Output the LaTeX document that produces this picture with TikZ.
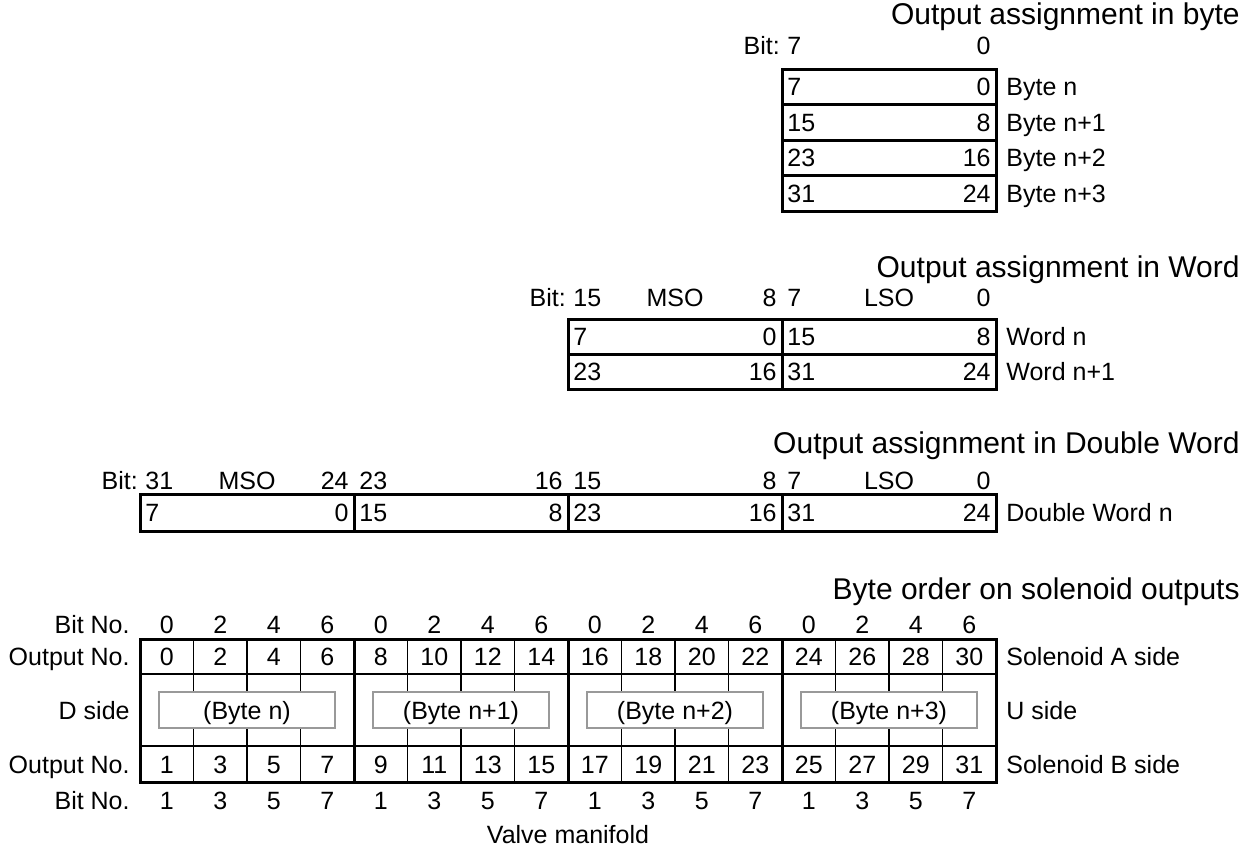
\documentclass[tikz,border=0pt]{standalone}
\usepackage{fontspec}
\setmainfont{Liberation Sans}
\newcommand\tabfont{\fontsize{12.5}{14}\selectfont}
\newcommand\ttlfont{\fontsize{15}{17}\selectfont}
\begin{document}
\begin{tikzpicture}[x=0.5pt,y=-0.5pt,
	txt/.style={inner sep=0pt, text height=9pt, text depth=0pt, font=\tabfont},
	ttl/.style={inner sep=0pt, anchor=east, font=\ttlfont},
	heavy/.style={line width=1.5pt},
	light/.style={line width=0.75pt},
	graybox/.style={draw=black!40, line width=0.7pt, fill=white}]
	\useasboundingbox (0,0) rectangle (1247,852);

	% byte
	\node[ttl] (tbyte) at (1240,17) {Output assignment in byte};
	\node[txt, anchor=west] (bh7) at (787,45) {7};
	\node[txt, anchor=east] (bhbit) at ([xshift=-3.4pt]bh7.west) {Bit:};
	\node[txt, anchor=east] (bh0) at (991,45) {0};
	\foreach \hi/\lo/\lab [count=\i from 0] in {7/0/Byte n, 15/8/Byte n+1, 23/16/Byte n+2, 31/24/Byte n+3} {
		\pgfmathsetmacro\yt{69+35.5*\i}
		\draw[heavy] (782,\yt) rectangle (996,\yt+35.5);
		\node[txt, anchor=west] (bhi\i) at (787,\yt+17.75) {\hi};
		\node[txt, anchor=east] (blo\i) at (991,\yt+17.75) {\lo};
		\node[txt, anchor=west] (blab\i) at (1006,\yt+17.75) {\lab};
	}

	% word
	\node[ttl] (tword) at (1240,270) {Output assignment in Word};
	\node[txt, anchor=west] (wh15) at (573,297) {15};
	\node[txt, anchor=east] (whbit) at ([xshift=-3.4pt]wh15.west) {Bit:};
	\node[txt] (whmso) at (675,297) {MSO};
	\node[txt, anchor=east] (wh8) at (777,297) {8};
	\node[txt, anchor=west] (wh7) at (787,297) {7};
	\node[txt] (whlso) at (889,297) {LSO};
	\node[txt, anchor=east] (wh0) at (991,297) {0};
	\foreach \a/\b/\c/\d/\lab [count=\i from 0] in {7/0/15/8/Word n, 23/16/31/24/Word n+1} {
		\pgfmathsetmacro\yt{319+35*\i}
		\draw[heavy] (568,\yt) rectangle (782,\yt+35);
		\draw[heavy] (782,\yt) rectangle (996,\yt+35);
		\node[txt, anchor=west] (wa\i) at (573,\yt+17.5) {\a};
		\node[txt, anchor=east] (wb\i) at (777,\yt+17.5) {\b};
		\node[txt, anchor=west] (wc\i) at (787,\yt+17.5) {\c};
		\node[txt, anchor=east] (wd\i) at (991,\yt+17.5) {\d};
		\node[txt, anchor=west] (wlab\i) at (1006,\yt+17.5) {\lab};
	}

	% double word
	\node[ttl] (tdword) at (1240,446) {Output assignment in Double Word};
	\node[txt, anchor=west] (dh31) at (145,480) {31};
	\node[txt, anchor=east] (dhbit) at ([xshift=-3.4pt]dh31.west) {Bit:};
	\node[txt] (dhmso) at (247,480) {MSO};
	\node[txt, anchor=east] (dh24) at (349,480) {24};
	\node[txt, anchor=west] (dh23) at (359,480) {23};
	\node[txt, anchor=east] (dh16) at (563,480) {16};
	\node[txt, anchor=west] (dh15) at (573,480) {15};
	\node[txt, anchor=east] (dh8) at (777,480) {8};
	\node[txt, anchor=west] (dh7) at (787,480) {7};
	\node[txt] (dhlso) at (889,480) {LSO};
	\node[txt, anchor=east] (dh0) at (991,480) {0};
	\foreach \hi/\lo [count=\i from 0] in {7/0, 15/8, 23/16, 31/24} {
		\pgfmathsetmacro\xl{140+214*\i}
		\draw[heavy] (\xl,494) rectangle (\xl+214,531);
		\node[txt, anchor=west] (dhi\i) at (\xl+5,512.5) {\hi};
		\node[txt, anchor=east] (dlo\i) at (\xl+209,512.5) {\lo};
	}
	\node[txt, anchor=west] (dlab) at (1006,512.5) {Double Word n};

	% solenoid outputs
	\node[ttl] (tsol) at (1240,592) {Byte order on solenoid outputs};
	\foreach \c in {1,...,15}
		\draw[light] ({140+53.5*\c},639) -- ++(0,143);
	\draw[light] (140,674) -- (996,674);
	\draw[light] (140,746) -- (996,746);
	\foreach \lab [count=\g from 0] in {n, n+1, n+2, n+3} {
		\pgfmathsetmacro\xl{140+214*\g}
		\draw[heavy] (\xl,639) rectangle (\xl+214,782);
		\draw[graybox] (\xl+19,692) rectangle (\xl+195,728);
		\node[txt] (sbyte\g) at (\xl+107,710) {(Byte \lab)};
	}
	\foreach \c in {0,...,15} {
		\pgfmathsetmacro\cx{140+53.5*(\c+0.5)}
		\pgfmathtruncatemacro\ev{mod(\c,4)*2}
		\pgfmathtruncatemacro\od{\ev+1}
		\pgfmathtruncatemacro\oa{2*\c}
		\pgfmathtruncatemacro\ob{2*\c+1}
		\node[txt] (sbt\c) at (\cx,624) {\ev};
		\node[txt] (soa\c) at (\cx,656.5) {\oa};
		\node[txt] (sob\c) at (\cx,764) {\ob};
		\node[txt] (sbb\c) at (\cx,800) {\od};
	}
	\node[txt, anchor=east] (lbt) at (130,624) {Bit No.};
	\node[txt, anchor=east] (loa) at (130,656.5) {Output No.};
	\node[txt, anchor=east] (ld) at (130,710) {D side};
	\node[txt, anchor=east] (lob) at (130,764) {Output No.};
	\node[txt, anchor=east] (lbb) at (130,800) {Bit No.};
	\node[txt, anchor=west] (ra) at (1006,656.5) {Solenoid A side};
	\node[txt, anchor=west] (ru) at (1006,710) {U side};
	\node[txt, anchor=west] (rb) at (1006,764) {Solenoid B side};
	\node[txt] (valve) at (568,834) {Valve manifold};
\end{tikzpicture}
\end{document}
